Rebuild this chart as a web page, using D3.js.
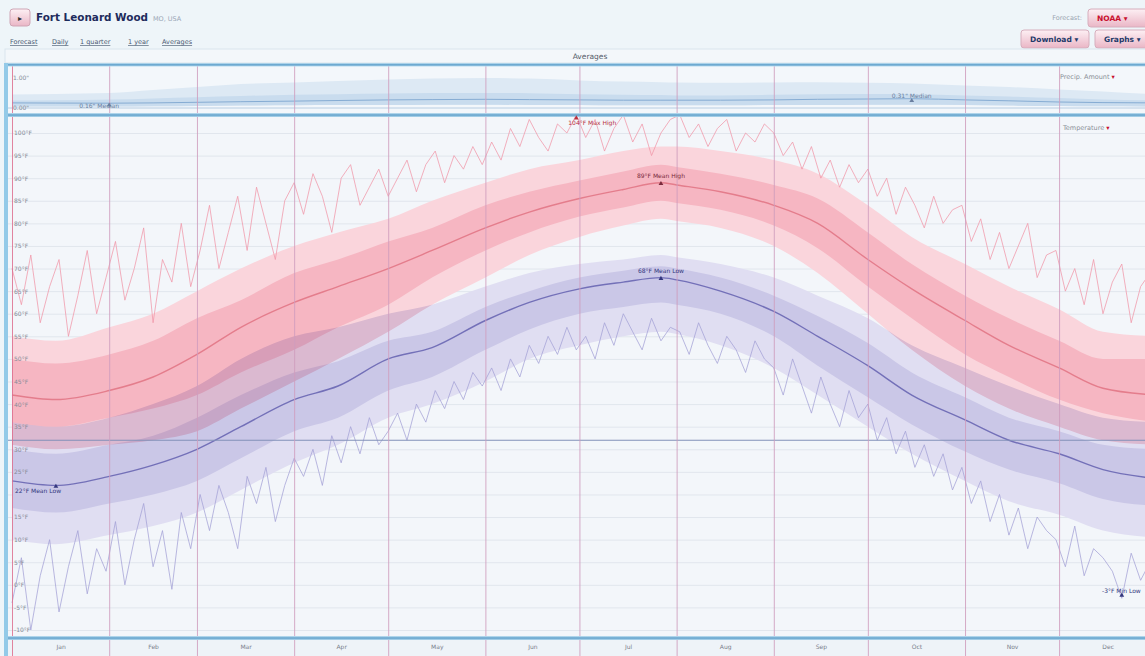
<!DOCTYPE html>
<html>
<head>
<meta charset="utf-8">
<script src="https://cdn.jsdelivr.net/npm/d3@7"></script>
<style>
body{margin:0;background:#eef5f9;font-family:"DejaVu Sans",Verdana,sans-serif;}
svg{display:block}
.lnk{text-decoration:underline}
</style>
</head>
<body>
<div id="chart"></div>
<script>
// ---- data ----
var months = ["Jan","Feb","Mar","Apr","May","Jun","Jul","Aug","Sep","Oct","Nov","Dec"];
var monthStart = [0,31,59,90,120,151,181,212,243,273,304,334,365];
var yTicks = [100,95,90,85,80,75,70,65,60,55,50,45,40,35,30,25,20,15,10,5,0,-5,-10];

var sampleDays = [0,14,31,45,59,73,90,104,120,134,151,165,181,195,207,212,226,243,257,273,287,304,318,334,348,365];
var meanHigh     = [42,41,43,46,51,57,62.5,66,70,74,79,82.5,85.5,87.5,89,88.5,87,84,80,72,65.5,58.5,53,48,43.5,42];
var highOuterTop = [55,54,57,60,65,70,75,78,81,85,89,92,94,96,97,97,96,94,91,84,77,71,66,61,56,55];
var highInnerTop = [50,49,51,54,59,63,69,72,76,79,84,87,89.5,91.5,93,92.5,91,88.5,85.5,78,71,64,59,54,50,50];
var highInnerBot = [36,35,37,39,42,47,52,57,62,68,74,78,81.5,83.5,85,84.5,83,79.5,74.5,66,59,51,46,41,38,36];
var highOuterBot = [31,30,31,32,34,39,45,50,56,62,68,73,77,79.5,81,80.5,79,75,69,60,52,44,39,35,32,31];

var meanLow     = [23,22,24,26.5,30,35,41,44,50,52.5,58.5,62.5,65.5,67,68,67.5,65,60.5,55,48.5,42,36.5,32,29,25.5,23.5];
var lowOuterTop = [36,35,37,40,44,50,55,57,60,62,66,69,71,72,73,72.5,71,68,64,59,53,48,44,40,37,36];
var lowInnerTop = [30,29,31,33,37,42,47,49.5,54,56,61.5,65,68,69.5,70.5,70,68,64,59.5,53.5,47,41.5,37,34,31,30];
var lowInnerBot = [17,16,18,20,23,28,34,37,43,46,52,56.5,60,61.5,62.5,62,60,55,48.5,41.5,35.5,29.5,25.5,22.5,19,17.5];
var lowOuterBot = [10,9,11,13,16,21,27,31,37,40,45,50,53,55,56,55.5,53,48,42,35,29,23,18.5,15.5,12,10.5];

// record values, one every 3 days from Jan 1
var recordStep = 3;
var maxHigh = [
  70,62,73,58,66,72,55,64,74,60,68,
  76,63,70,79,58,72,67,80,66,74,
  84,70,78,86,74,88,80,72,85,89,
  82,91,86,78,90,93,84,88,92,86,
  90,94,87,93,96,89,95,92,97,93,
  98,94,101,97,103,99,96,102,100,104,
  99,103,96,101,104,98,102,95,100,103,
  104,99,102,97,101,103,96,100,98,102,
  100,95,98,92,97,90,94,88,93,89,
  92,86,90,82,88,84,79,86,80,83,
  84,76,81,72,78,70,75,80,68,73,
  74,65,70,62,72,60,67,71,58,66,69];
var minLow = [
  -4,6,-10,2,10,-6,4,12,-2,8,3,
  14,0,10,18,4,12,-1,16,8,20,
  12,22,16,8,24,18,26,14,22,28,
  24,30,22,33,27,35,29,37,31,34,
  38,32,40,36,43,39,45,41,47,44,
  48,43,50,46,53,49,55,51,57,52,
  55,50,58,53,60,56,52,59,54,57,
  56,51,58,53,49,55,52,47,54,50,
  48,42,50,44,38,46,40,35,43,37,
  40,32,37,29,34,26,31,24,29,21,
  26,18,23,14,20,11,17,8,15,12,
  10,4,13,2,8,6,3,-3,7,1,5];

var precipOuter  = [0.45,0.47,0.5,0.6,0.7,0.8,0.85,0.9,0.95,0.98,1.0,0.98,0.92,0.88,0.86,0.85,0.84,0.85,0.86,0.84,0.82,0.75,0.7,0.62,0.55,0.45];
var precipInner  = [0.25,0.26,0.28,0.32,0.36,0.4,0.44,0.46,0.48,0.5,0.5,0.49,0.46,0.44,0.43,0.42,0.42,0.44,0.46,0.47,0.46,0.42,0.38,0.33,0.28,0.25];
var precipMedian = [0.17,0.165,0.16,0.17,0.19,0.21,0.23,0.25,0.27,0.28,0.29,0.28,0.27,0.26,0.26,0.26,0.26,0.27,0.29,0.3,0.31,0.27,0.24,0.2,0.18,0.17];
var precipLow    = [0.05,0.05,0.05,0.06,0.07,0.08,0.09,0.1,0.1,0.11,0.11,0.1,0.1,0.09,0.09,0.09,0.09,0.1,0.1,0.11,0.11,0.1,0.08,0.07,0.06,0.05];

// ---- layout ----
var W = 1145, H = 656;
var font = '"DejaVu Sans", Verdana, sans-serif';
var x = d3.scaleLinear().domain([0,365]).range([12, 12 + 365*3.135]);
var y = d3.scaleLinear().domain([-10,100]).range([630,133]);
var yP = d3.scaleLinear().domain([0,1]).range([108,78]);

var svg = d3.select("#chart").append("svg").attr("width", W).attr("height", H)
  .style("font-family", font);
var defs = svg.append("defs");

function vgrad(id, stops){
  var g = defs.append("linearGradient").attr("id", id)
    .attr("x1","0%").attr("x2","0%").attr("y1","0%").attr("y2","100%");
  stops.forEach(function(s){ g.append("stop").attr("offset", s[0]).style("stop-color", s[1]); });
}
vgrad("bar", [["0%","#c9e6f5"],["50%","#5e9fca"],["100%","#b7dbef"]]);
vgrad("pinkbtn", [["0%","#fdf0f4"],["100%","#eab6c6"]]);

svg.append("rect").attr("width", W).attr("height", H).attr("fill", "#eef5f9");

// ---- header ----
var hdr = svg.append("g");
hdr.append("rect").attr("x",10).attr("y",9).attr("width",20).attr("height",17).attr("rx",3)
  .attr("fill","url(#pinkbtn)").attr("stroke","#cfa5b5");
hdr.append("text").attr("x",20).attr("y",21).attr("text-anchor","middle")
  .attr("font-size",8).attr("fill","#333").text("▸");
hdr.append("text").attr("x",36).attr("y",21).attr("font-size",11).attr("font-weight","bold")
  .attr("fill","#1d2b5c").attr("textLength",112).attr("lengthAdjust","spacingAndGlyphs").text("Fort Leonard Wood");
hdr.append("text").attr("x",153).attr("y",21).attr("font-size",6.5).attr("fill","#9aa6b6").text("MO, USA");

var links = [["Forecast",10],["Daily",52],["1 quarter",80],["1 year",128],["Averages",162]];
hdr.selectAll("text.lnk").data(links).enter().append("text").attr("class","lnk")
  .attr("x", function(d){ return d[1]; }).attr("y", 44)
  .attr("font-size", 6.5).attr("fill", "#4a5a72").text(function(d){ return d[0]; });

hdr.append("text").attr("x",1082).attr("y",20).attr("text-anchor","end")
  .attr("font-size",6.5).attr("fill","#9aa4b0").text("Forecast:");
var btns = [["NOAA ▾",1088,9,62,"#c8102e"],["Download ▾",1021,30,68,"#233a6a"],["Graphs ▾",1095,30,55,"#233a6a"]];
btns.forEach(function(b){
  hdr.append("rect").attr("x",b[1]).attr("y",b[2]).attr("width",b[3]).attr("height",18).attr("rx",3)
    .attr("fill","url(#pinkbtn)").attr("stroke","#d6aebd");
  hdr.append("text").attr("x",b[1]+9).attr("y",b[2]+12).attr("font-size",7.5).attr("font-weight","bold")
    .attr("fill",b[4]).text(b[0]);
});

// averages title bar
svg.append("rect").attr("x",5).attr("y",49).attr("width",1145).attr("height",14)
  .attr("fill","#f3f7fa").attr("stroke","#d9e5ed");
svg.append("text").attr("x",590).attr("y",59).attr("text-anchor","middle")
  .attr("font-size",7.5).attr("fill","#555d6a").text("Averages");

// ---- panels ----
svg.append("rect").attr("x",8).attr("y",66).attr("width",W-8).attr("height",48).attr("fill","#f3f7fb");
svg.append("rect").attr("x",8).attr("y",117).attr("width",W-8).attr("height",520).attr("fill","#f3f6fa");
svg.append("rect").attr("x",8).attr("y",640).attr("width",W-8).attr("height",16).attr("fill","#eef3f8");

defs.append("clipPath").attr("id","clipT").append("rect").attr("x",8).attr("y",117).attr("width",W-8).attr("height",519);
defs.append("clipPath").attr("id","clipP").append("rect").attr("x",8).attr("y",66).attr("width",W-8).attr("height",47);

// gridlines
svg.append("g").attr("transform","translate(8,0)")
  .call(d3.axisLeft(y).tickValues(yTicks).tickSize(-(W-8)).tickFormat(""))
  .call(function(g){ g.select(".domain").remove(); g.selectAll("line").attr("stroke","#e1e6ed"); });

// precipitation
var gp = svg.append("g").attr("clip-path","url(#clipP)");
function pArea(top, bot){
  return d3.area().curve(d3.curveMonotoneX)
    .x(function(d,i){ return x(sampleDays[i]); })
    .y0(function(d,i){ return yP(bot[i]); })
    .y1(function(d,i){ return yP(top[i]); });
}
gp.append("path").datum(sampleDays).attr("d", pArea(precipOuter, precipLow)).attr("fill","#dde9f4");
gp.append("path").datum(sampleDays).attr("d", pArea(precipInner, precipLow)).attr("fill","#c9dcee");
gp.append("path").datum(sampleDays)
  .attr("d", d3.line().curve(d3.curveMonotoneX).x(function(d,i){ return x(sampleDays[i]); }).y(function(d,i){ return yP(precipMedian[i]); }))
  .attr("fill","none").attr("stroke","#86acd3").attr("stroke-width",1);
gp.append("line").attr("x1",8).attr("x2",W).attr("y1",yP(0)).attr("y2",yP(0)).attr("stroke","#b8cde2");

// temperature bands
var gt = svg.append("g").attr("clip-path","url(#clipT)");
function tArea(top, bot){
  return d3.area().curve(d3.curveMonotoneX)
    .x(function(d,i){ return x(sampleDays[i]); })
    .y0(function(d,i){ return y(bot[i]); })
    .y1(function(d,i){ return y(top[i]); });
}
function tLine(vals){
  return d3.line().curve(d3.curveMonotoneX)
    .x(function(d,i){ return x(sampleDays[i]); })
    .y(function(d,i){ return y(vals[i]); });
}
var gLow = gt.append("g");
gLow.append("path").datum(sampleDays).attr("d", tArea(lowOuterTop, lowOuterBot)).attr("fill","#e0def2");
gLow.append("path").datum(sampleDays).attr("d", tArea(lowInnerTop, lowInnerBot)).attr("fill","#cac7e7");
var gHigh = gt.append("g").style("mix-blend-mode","multiply");
gHigh.append("path").datum(sampleDays).attr("d", tArea(highOuterTop, highOuterBot)).attr("fill","#fad5dc");
gHigh.append("path").datum(sampleDays).attr("d", tArea(highInnerTop, highInnerBot)).attr("fill","#f6b6c2");

// record lines
var recLine = d3.line().x(function(d,i){ return x(i*recordStep); }).y(function(d){ return y(d); });
gt.append("path").datum(maxHigh).attr("d", recLine).attr("fill","none")
  .attr("stroke","#f197a8").attr("stroke-width",0.9).attr("opacity",0.85);
gt.append("path").datum(minLow).attr("d", recLine).attr("fill","none")
  .attr("stroke","#a4a2d6").attr("stroke-width",0.9).attr("opacity",0.85);

// mean lines
gt.append("path").datum(sampleDays).attr("d", tLine(meanHigh)).attr("fill","none")
  .attr("stroke","#e47d8c").attr("stroke-width",1.4);
gt.append("path").datum(sampleDays).attr("d", tLine(meanLow)).attr("fill","none")
  .attr("stroke","#7370b8").attr("stroke-width",1.4);

// freezing line
svg.append("line").attr("x1",8).attr("x2",W).attr("y1",y(32)).attr("y2",y(32))
  .attr("stroke","#8290b8").attr("stroke-width",1.2);

// month lines
svg.append("g").attr("transform","translate(0,66)")
  .call(d3.axisBottom(x).tickValues(monthStart.slice(0,12)).tickSize(590).tickFormat(""))
  .call(function(g){
    g.select(".domain").remove();
    g.selectAll("line").attr("stroke", function(d){ return d === 0 ? "#dd6f8e" : "#cf9cbd"; })
      .attr("stroke-width",1).attr("opacity",0.85);
  });

// frame bars
[[63,3.5],[113,4],[636,4]].forEach(function(b){
  svg.append("rect").attr("x",5).attr("y",b[0]).attr("width",W-5).attr("height",b[1]).attr("fill","url(#bar)");
});
svg.append("rect").attr("x",4).attr("y",63).attr("width",4).attr("height",H-63).attr("fill","#93cae8");

// y labels
svg.append("g").attr("transform","translate(10,0)")
  .call(d3.axisRight(y).tickValues(yTicks.filter(function(t){ return t !== 20; })).tickSize(0).tickPadding(4)
    .tickFormat(function(d){ return d + "°F"; }))
  .call(function(g){
    g.select(".domain").remove();
    g.selectAll("text").attr("font-size",6).attr("fill","#868c98").style("font-family",font);
  });

// precip labels
svg.append("text").attr("x",13).attr("y",80).attr("font-size",6).attr("fill","#868c98").text('1.00"');
svg.append("text").attr("x",13).attr("y",110).attr("font-size",6).attr("fill","#868c98").text('0.00"');

// month labels
svg.append("g").attr("transform","translate(0,640)")
  .call(d3.axisBottom(x).tickValues(monthStart.slice(0,12).map(function(d,i){ return (d + monthStart[i+1]) / 2; }))
    .tickSize(0).tickPadding(5).tickFormat(function(d,i){ return months[i]; }))
  .call(function(g){
    g.select(".domain").remove();
    g.selectAll("text").attr("font-size",6).attr("fill","#7a808c").style("font-family",font);
  });

// legends
svg.append("text").attr("x",1060).attr("y",79).attr("font-size",6.5).attr("fill","#8a8f98")
  .text("Precip. Amount ").append("tspan").attr("fill","#c8102e").text("▾");
svg.append("text").attr("x",1063).attr("y",130).attr("font-size",6.5).attr("fill","#8a8f98")
  .text("Temperature ").append("tspan").attr("fill","#c8102e").text("▾");

// ---- annotations ----
var tri = d3.symbol().type(d3.symbolTriangle).size(10);
function mark(px, py, label, tx, ty, color, anchor){
  svg.append("path").attr("d", tri).attr("transform","translate(" + px + "," + py + ")").attr("fill", color);
  svg.append("text").attr("x", tx).attr("y", ty).attr("text-anchor", anchor || "middle")
    .attr("font-size",6).attr("fill", color).text(label);
}
var iMaxH = maxHigh.indexOf(d3.max(maxHigh));
mark(x(iMaxH*recordStep), 118, d3.max(maxHigh) + "°F Max High", x(iMaxH*recordStep) - 8, 125, "#b8303f", "start");

var iMH = meanHigh.indexOf(d3.max(meanHigh));
mark(x(sampleDays[iMH]), y(meanHigh[iMH]) + 1, meanHigh[iMH] + "°F Mean High", x(sampleDays[iMH]), y(meanHigh[iMH]) - 5, "#7a2a3c");

var iML = meanLow.indexOf(d3.max(meanLow));
mark(x(sampleDays[iML]), y(meanLow[iML]) + 1, meanLow[iML] + "°F Mean Low", x(sampleDays[iML]), y(meanLow[iML]) - 5, "#34377e");

var iLL = meanLow.indexOf(d3.min(meanLow));
mark(x(sampleDays[iLL]), y(meanLow[iLL]) + 1, meanLow[iLL] + "°F Mean Low", 15, y(meanLow[iLL]) + 8, "#34377e", "start");

var decStart = Math.ceil(334 / recordStep);
var decMin = d3.min(minLow.slice(decStart));
var iDL = minLow.indexOf(decMin, decStart);
mark(x(iDL*recordStep), y(decMin) - 3, decMin + "°F Min Low", 1102, y(decMin) - 5, "#34377e", "start");

var iPmax = precipMedian.indexOf(d3.max(precipMedian));
mark(x(sampleDays[iPmax]), yP(precipMedian[iPmax]) + 2, d3.format(".2f")(precipMedian[iPmax]) + '" Median',
  x(sampleDays[iPmax]), yP(precipMedian[iPmax]) - 1, "#6a7fa0");
var iPmin = precipMedian.indexOf(d3.min(precipMedian));
mark(x(sampleDays[iPmin]), yP(precipMedian[iPmin]) + 2, d3.format(".2f")(precipMedian[iPmin]) + '" Median',
  x(sampleDays[iPmin]) - 10, yP(precipMedian[iPmin]) + 5, "#6a7fa0");
</script>
</body>
</html>
